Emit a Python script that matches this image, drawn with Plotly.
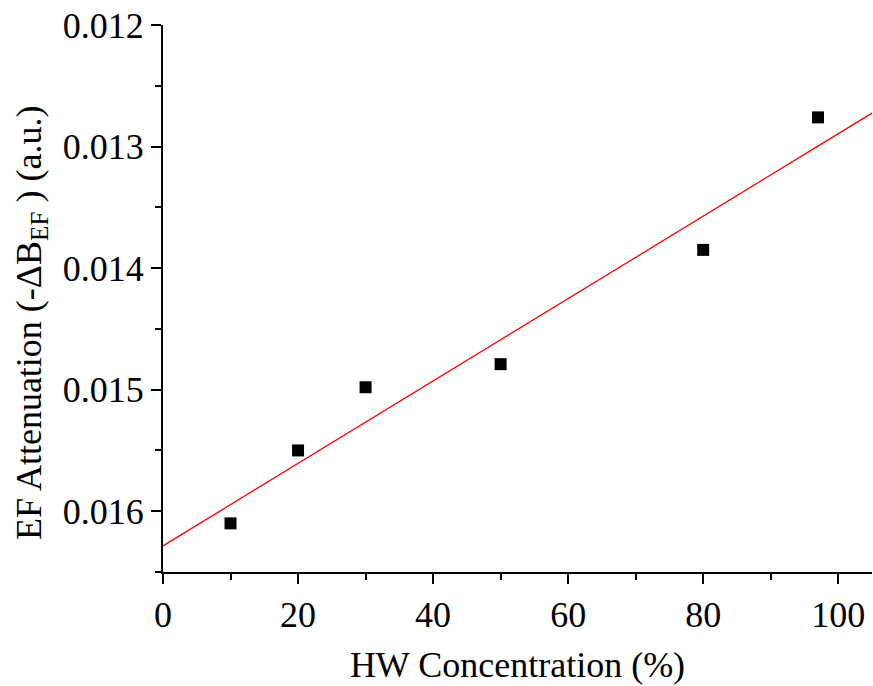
import numpy as np
import plotly.graph_objects as go

# HW concentration (%) and measured EF attenuation (-ΔB_EF)
concentration = [10, 20, 30, 50, 80, 97]
attenuation = [0.01610, 0.01550, 0.01498, 0.01479, 0.01385, 0.01276]

# Linear least-squares fit over the displayed x range
slope, intercept = np.polyfit(concentration, attenuation, 1)
fit_x = np.array([0, 105])
fit_y = slope * fit_x + intercept

FONT = "Liberation Serif, Times New Roman, serif"

fig = go.Figure()
fig.add_trace(go.Scatter(
    x=fit_x, y=fit_y, mode="lines",
    line=dict(color="#ff0000", width=1.3),
    showlegend=False, hoverinfo="skip",
))
fig.add_trace(go.Scatter(
    x=concentration, y=attenuation, mode="markers",
    marker=dict(symbol="square", size=12, color="black", line=dict(width=0)),
    showlegend=False,
))

axis_common = dict(
    showgrid=False, zeroline=False,
    showline=True, linecolor="black", linewidth=2,
    ticks="outside", ticklen=10, tickwidth=2, tickcolor="black",
    tickfont=dict(family=FONT, size=36, color="black"),
)

fig.update_layout(
    width=873, height=686,
    margin=dict(l=163, r=1, t=25, b=114),
    paper_bgcolor="white", plot_bgcolor="white",
    xaxis=dict(
        range=[0, 105], tickvals=[0, 20, 40, 60, 80, 100],
        minor=dict(dtick=10, tick0=0, ticks="outside", ticklen=6, tickwidth=2, tickcolor="black"),
        title=dict(text="HW Concentration (%)", font=dict(family=FONT, size=36, color="black"), standoff=18),
        **axis_common,
    ),
    yaxis=dict(
        range=[0.0165, 0.012],
        tickvals=[0.012, 0.013, 0.014, 0.015, 0.016],
        ticktext=["0.012", "0.013", "0.014", "0.015", "0.016"],
        minor=dict(dtick=0.0005, tick0=0.012, ticks="outside", ticklen=6, tickwidth=2, tickcolor="black"),
        **axis_common,
    ),
)

# Vertical y-axis title
fig.add_annotation(
    text="EF Attenuation (-ΔB<sub>EF</sub> ) (a.u.)",
    xref="paper", yref="paper", x=0, y=0.455,
    xshift=-132, xanchor="center", yanchor="middle",
    textangle=-90, showarrow=False,
    font=dict(family=FONT, size=36, color="black"),
)

fig.write_html("out.html")
